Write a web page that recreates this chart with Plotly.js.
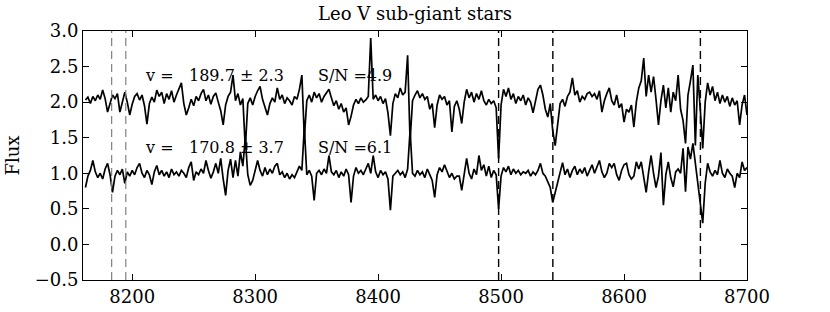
<!DOCTYPE html>
<html>
<head>
<meta charset="utf-8">
<script src="https://cdn.plot.ly/plotly-3.0.1.min.js"></script>
<style>html,body{margin:0;padding:0;background:#fff;}#chart{width:830px;height:312px;}</style>
</head>
<body>
<div id="chart"></div>
<script>
// Wavelength grid (Angstrom)
const wave = [
8162,8164,8166,8168,8170,8172,8174,8176,8178,8180,
8182,8184,8186,8188,8190,8192,8194,8196,8198,8200,
8202,8204,8206,8208,8210,8212,8214,8216,8218,8220,
8222,8224,8226,8228,8230,8232,8234,8236,8238,8240,
8242,8244,8246,8248,8250,8252,8254,8256,8258,8260,
8262,8264,8266,8268,8270,8272,8274,8276,8278,8280,
8282,8284,8286,8288,8290,8292,8294,8296,8298,8300,
8302,8304,8306,8308,8310,8312,8314,8316,8318,8320,
8322,8324,8326,8328,8330,8332,8334,8336,8338,8340,
8342,8344,8346,8348,8350,8352,8354,8356,8358,8360,
8362,8364,8366,8368,8370,8372,8374,8376,8378,8380,
8382,8384,8386,8388,8390,8392,8394,8396,8398,8400,
8402,8404,8406,8408,8410,8412,8414,8416,8418,8420,
8422,8424,8426,8428,8430,8432,8434,8436,8438,8440,
8442,8444,8446,8448,8450,8452,8454,8456,8458,8460,
8462,8464,8466,8468,8470,8472,8474,8476,8478,8480,
8482,8484,8486,8488,8490,8492,8494,8496,8498,8500,
8502,8504,8506,8508,8510,8512,8514,8516,8518,8520,
8522,8524,8526,8528,8530,8532,8534,8536,8538,8540,
8542,8544,8546,8548,8550,8552,8554,8556,8558,8560,
8562,8564,8566,8568,8570,8572,8574,8576,8578,8580,
8582,8584,8586,8588,8590,8592,8594,8596,8598,8600,
8602,8604,8606,8608,8610,8612,8614,8616,8618,8620,
8622,8624,8626,8628,8630,8632,8634,8636,8638,8640,
8642,8644,8646,8648,8650,8652,8654,8656,8658,8660,
8662,8664,8666,8668,8670,8672,8674,8676,8678,8680,
8682,8684,8686,8688,8690,8692,8694,8696,8698,8700
];

// Upper spectrum (offset flux)
const fluxUpper = [
2.03,2.07,1.98,2.08,2.02,2.10,2.04,2.17,2.05,1.86,
1.98,2.10,2.05,2.12,1.86,2.02,2.14,2.00,1.82,1.97,
2.08,2.12,2.03,2.10,1.95,1.69,1.98,2.07,2.00,2.17,
2.08,2.14,1.98,2.12,2.04,2.16,2.00,2.10,2.20,2.27,
1.98,1.82,1.92,2.04,1.95,2.08,2.02,2.12,2.18,2.02,
2.10,1.97,2.08,2.13,2.00,1.88,1.68,1.96,2.08,2.14,
2.38,2.02,2.12,1.96,2.05,1.35,1.98,2.06,1.96,2.08,
2.16,2.22,2.04,1.94,1.82,1.98,2.06,2.00,2.20,2.04,
2.10,1.98,2.06,2.02,1.96,2.08,2.04,2.18,2.38,1.50,
2.02,2.10,2.00,2.14,2.06,2.12,2.00,2.08,2.14,2.18,
2.06,1.95,2.02,1.90,1.98,1.86,1.92,1.68,1.80,1.96,
2.04,1.98,2.06,2.00,2.03,2.08,2.90,2.04,2.10,2.02,
2.08,1.98,2.05,1.85,1.53,1.98,2.12,2.06,2.20,2.10,
2.14,2.66,1.45,2.02,2.10,2.16,2.06,2.12,2.04,2.08,
1.90,1.98,1.64,1.96,2.10,2.04,2.08,1.96,2.02,1.58,
1.94,2.02,1.90,1.70,2.00,2.18,2.06,2.14,2.00,2.12,
2.04,2.16,2.02,1.96,2.04,1.98,2.02,1.92,1.21,1.96,
2.18,2.08,2.20,2.04,2.12,1.98,2.08,2.02,2.10,1.96,
2.06,2.00,1.85,2.02,2.18,2.24,2.10,1.90,1.79,1.98,
1.60,1.39,1.70,1.98,2.04,1.94,2.08,2.14,2.34,2.10,
2.16,2.00,2.08,2.04,2.12,2.14,2.08,2.12,2.04,2.16,
1.86,2.02,2.12,2.20,2.02,1.96,2.10,1.92,1.98,1.72,
1.90,1.86,1.96,1.65,2.00,2.20,2.30,2.62,2.08,2.38,
2.14,2.36,2.04,1.68,2.02,2.24,1.92,2.20,1.86,2.14,
2.02,2.38,1.90,1.74,1.42,2.10,2.30,2.52,1.39,2.38,
1.90,1.35,2.00,2.27,2.10,2.22,2.02,2.14,1.98,2.10,
2.00,2.08,1.94,2.06,1.96,2.02,1.68,1.96,2.10,1.82
];

// Lower spectrum
const fluxLower = [
0.80,0.96,1.04,1.18,1.02,0.94,1.00,0.92,1.06,1.14,
0.98,0.73,0.96,1.04,0.98,1.06,0.86,1.02,0.96,1.04,
0.98,1.08,1.14,1.00,0.94,1.04,0.98,0.84,1.02,1.11,
0.98,1.04,0.96,1.02,0.94,1.06,0.98,1.02,0.96,1.04,
1.00,0.94,1.08,1.16,0.90,1.02,0.98,1.06,1.00,1.18,
1.04,0.93,1.02,1.14,1.00,1.21,0.92,0.69,1.04,1.20,
0.94,1.18,0.96,1.30,1.10,1.50,0.98,0.83,0.90,1.06,
1.18,1.04,0.96,1.08,0.98,1.06,1.00,1.10,1.14,0.98,
1.02,0.94,1.00,0.92,0.98,0.94,1.02,1.10,1.04,1.65,
0.98,1.04,0.96,0.62,1.00,1.04,0.98,1.06,1.00,1.25,
1.02,0.98,1.04,0.94,1.02,0.96,1.06,0.98,0.59,0.96,
1.08,1.00,1.04,0.98,1.06,1.14,1.00,1.25,1.02,0.94,
1.04,0.98,1.02,0.92,0.48,0.96,1.00,1.04,0.98,1.02,
0.94,1.06,1.60,1.00,0.96,1.04,0.98,1.02,0.94,1.06,
0.98,0.90,0.66,0.98,1.08,1.02,1.12,1.04,0.94,1.00,
0.92,0.96,0.96,0.76,1.02,1.21,1.00,0.92,1.06,0.98,
1.25,1.04,1.12,0.96,1.10,0.94,1.04,0.98,0.50,0.96,
1.08,1.02,1.10,0.98,1.06,1.00,1.04,0.98,1.02,1.00,
1.04,0.96,1.02,0.98,1.04,1.14,1.00,0.96,0.88,0.80,
0.59,0.72,0.86,1.00,1.15,0.98,1.06,0.94,1.04,1.10,
0.98,1.06,1.00,1.08,0.96,1.04,1.12,1.00,1.08,1.18,
1.02,0.94,1.00,1.14,1.08,1.14,0.98,0.90,1.04,1.12,
1.14,0.98,0.92,0.96,1.16,1.06,1.16,0.96,0.73,1.02,
1.25,1.00,0.80,0.96,1.29,0.55,0.98,1.16,0.94,0.81,
1.02,1.06,1.00,1.35,0.74,1.37,1.20,1.42,1.14,0.80,
0.58,0.30,0.86,1.14,1.02,0.96,1.04,0.98,1.18,1.00,
0.94,1.06,1.00,0.96,0.80,1.00,0.94,1.16,1.04,1.08
];

// Reference lines
const naLines = [8183.3, 8194.8];
const caLines = [8498.0, 8542.1, 8662.1];

// Labels
const velocities = ["189.7", "170.8"];
const velErrors = ["2.3", "3.7"];
const snr = ["4.9", "6.1"];
const xTicks = [8200, 8300, 8400, 8500, 8600, 8700];
const yTicks = [-0.5, 0.0, 0.5, 1.0, 1.5, 2.0, 2.5, 3.0];

const FONT = "DejaVu Serif";

const traces = [
  {x: wave, y: fluxUpper, type: "scatter", mode: "lines", line: {color: "#000", width: 1.7}, hoverinfo: "skip"},
  {x: wave, y: fluxLower, type: "scatter", mode: "lines", line: {color: "#000", width: 1.7}, hoverinfo: "skip"}
];

const shapes = [];
naLines.forEach(w => shapes.push({type: "line", xref: "x", yref: "paper", x0: w, x1: w, y0: 0, y1: 1,
  line: {color: "#808080", width: 1.2, dash: "8px,5px"}}));
caLines.forEach(w => shapes.push({type: "line", xref: "x", yref: "paper", x0: w, x1: w, y0: 0, y1: 1,
  line: {color: "#000", width: 1.4, dash: "8px,5px"}}));

const annY = [2.37, 1.36];
const annFont = {family: FONT, size: 16, color: "#000"};
const annotations = [];
for (let i = 0; i < 2; i++) {
  annotations.push({xref: "x", yref: "y", x: 8208.5, y: annY[i], xanchor: "left", yanchor: "middle",
    text: "v =", showarrow: false, font: annFont});
  annotations.push({xref: "x", yref: "y", x: 8244.5, y: annY[i], xanchor: "left", yanchor: "middle",
    text: velocities[i] + " \u00b1 " + velErrors[i], showarrow: false, font: annFont});
  annotations.push({xref: "x", yref: "y", x: 8349.5, y: annY[i], xanchor: "left", yanchor: "middle",
    text: "S/N =" + snr[i], showarrow: false, font: annFont});
}

const axisCommon = {
  showline: true, linecolor: "#000", linewidth: 1, mirror: "allticks",
  ticks: "inside", ticklen: 6, tickwidth: 1, tickcolor: "#000",
  showgrid: false, zeroline: false,
  tickfont: {family: FONT, size: 18, color: "#000"}
};

const layout = {
  width: 830, height: 312,
  margin: {l: 83, r: 83, t: 31, b: 32, pad: 0},
  paper_bgcolor: "#fff", plot_bgcolor: "#fff",
  showlegend: false,
  title: {text: "Leo V sub-giant stars", font: {family: FONT, size: 18, color: "#000"},
          x: 0.5, xanchor: "center", y: 0.955, yanchor: "middle", yref: "container"},
  xaxis: Object.assign({}, axisCommon, {range: [8160, 8700], tickmode: "array", tickvals: xTicks,
          ticktext: xTicks.map(String)}),
  yaxis: Object.assign({}, axisCommon, {range: [-0.5, 3.0], tickmode: "array", tickvals: yTicks,
          ticktext: yTicks.map(v => (v < 0 ? "\u2212" : "") + Math.abs(v).toFixed(1)),
          title: {text: "Flux", font: {family: FONT, size: 18, color: "#000"}, standoff: 10}}),
  shapes: shapes,
  annotations: annotations
};

Plotly.newPlot("chart", traces, layout, {displayModeBar: false, staticPlot: true});
</script>
</body>
</html>
